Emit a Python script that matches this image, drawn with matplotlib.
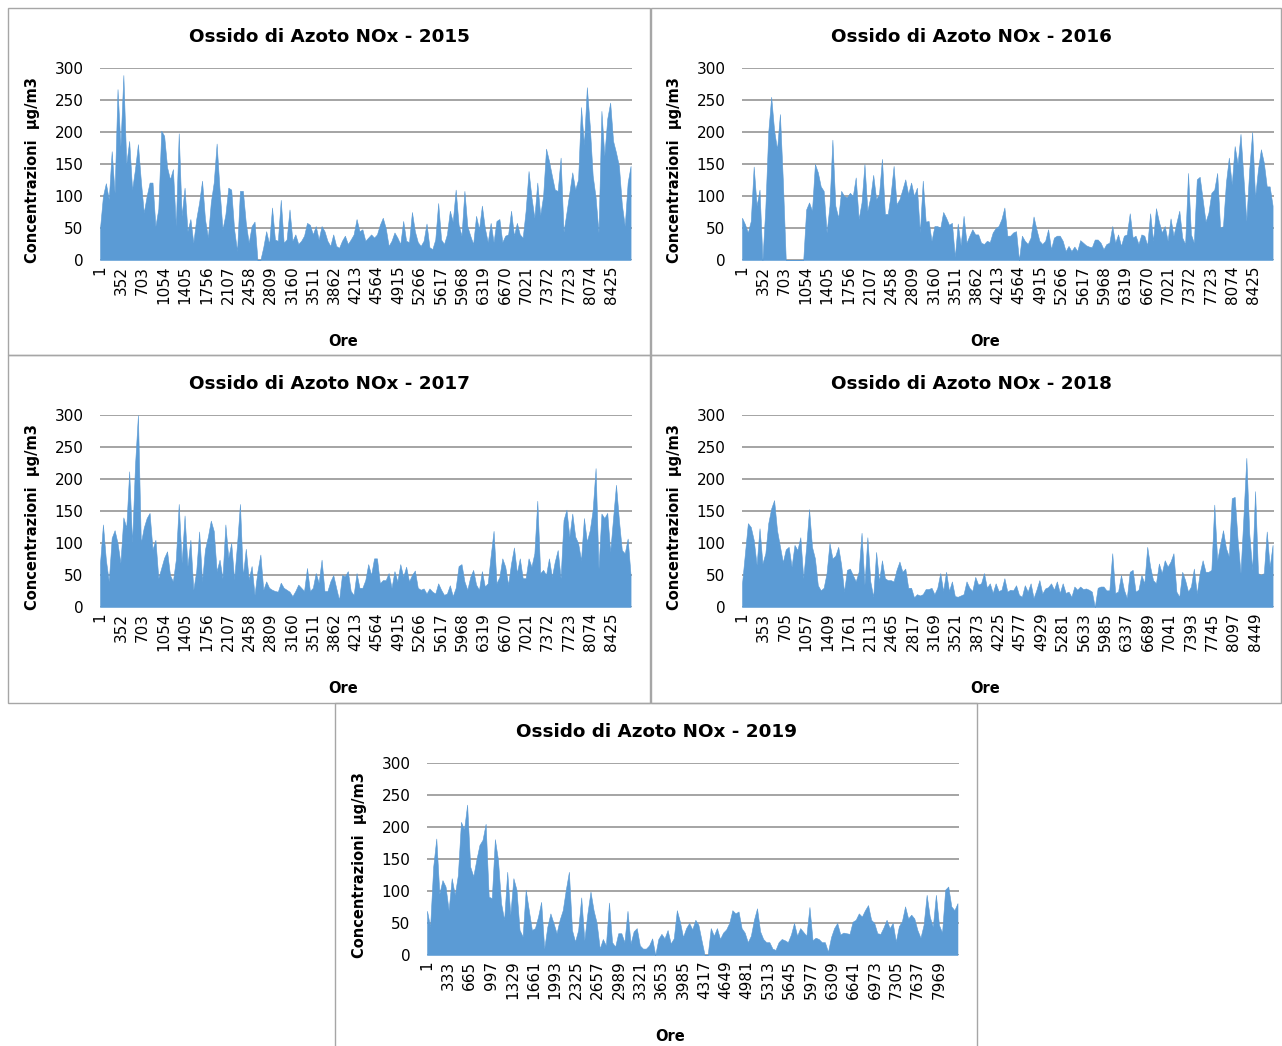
import numpy as np
import matplotlib
matplotlib.use("Agg")
import matplotlib.pyplot as plt
from matplotlib.patches import Rectangle

# Hourly NOx concentrations (µg/m3), one reading kept every 48 hours
STEP_HOURS = 48

nox_2015 = [
    50, 100, 120, 95, 170, 105, 267, 178, 289, 150,
    186, 110, 142, 181, 124, 74, 100, 121, 121, 53,
    80, 202, 194, 145, 126, 142, 53, 198, 69, 113,
    45, 64, 27, 64, 90, 124, 64, 35, 90, 121,
    182, 110, 48, 71, 113, 110, 48, 14, 108, 108,
    58, 27, 53, 60, 0, 0, 20, 45, 25, 82,
    32, 30, 94, 27, 32, 79, 30, 40, 25, 30,
    38, 58, 55, 40, 53, 32, 53, 45, 30, 22,
    40, 22, 19, 30, 38, 25, 32, 40, 64, 45, 48,
    30, 35, 40, 35, 40, 55, 66, 50, 22, 30,
    43, 35, 25, 61, 30, 28, 75, 45, 28, 22,
    30, 57, 20, 17, 32, 89, 32, 25, 40, 77,
    60, 110, 55, 38, 108, 53, 38, 25, 69, 48,
    85, 50, 28, 58, 28, 61, 64, 28, 38, 40,
    77, 38, 58, 40, 35, 77, 139, 98, 66, 121,
    70, 100, 174, 155, 132, 110, 108, 160, 44, 74,
    105, 137, 110, 126, 239, 180, 270, 210, 132, 98,
    43, 233, 163, 221, 246, 186, 168, 147, 87, 53,
    121, 147,
]

nox_2016 = [
    66, 56, 43, 61, 146, 85, 110, 0, 82, 200,
    255, 203, 173, 228, 124, 0, 0, 0, 0, 0,
    0, 0, 79, 90, 77, 150, 137, 115, 108, 43,
    85, 188, 85, 66, 108, 100, 98, 105, 100, 129,
    64, 90, 150, 77, 98, 133, 95, 103, 158, 72,
    72, 103, 147, 87, 95, 110, 126, 103, 121, 100,
    113, 43, 124, 60, 61, 30, 53, 53, 50, 75,
    66, 55, 58, 5, 57, 23, 69, 27, 38, 48,
    40, 40, 27, 25, 30, 28, 43, 50, 53, 64, 82,
    38, 38, 43, 45, 0, 38, 30, 25, 35, 68,
    48, 30, 25, 30, 48, 17, 35, 38, 38, 30,
    14, 22, 14, 21, 14, 31, 27, 23, 21, 20,
    32, 32, 27, 17, 25, 27, 53, 27, 40, 22,
    38, 40, 73, 35, 38, 25, 40, 38, 23, 73,
    30, 81, 60, 43, 53, 30, 65, 38, 58, 77,
    35, 25, 136, 40, 27, 126, 130, 95, 60, 74,
    105, 110, 136, 50, 53, 121, 160, 118, 178, 150,
    197, 129, 61, 142, 200, 98, 142, 173, 152, 115,
    115, 85,
]

nox_2017 = [
    69, 129, 74, 40, 108, 120, 100, 69, 140, 124,
    212, 100, 222, 300, 100, 124, 139, 147, 90, 105,
    45, 61, 77, 87, 50, 40, 74, 161, 69, 143,
    64, 105, 27, 56, 118, 40, 90, 110, 135, 119,
    56, 74, 45, 129, 77, 100, 43, 98, 161, 48,
    91, 43, 64, 19, 56, 82, 27, 40, 30, 27,
    25, 24, 38, 30, 27, 24, 17, 25, 35, 30,
    25, 61, 25, 30, 53, 38, 74, 25, 25, 40,
    50, 30, 11, 50, 48, 56, 25, 19, 53, 30, 30,
    42, 67, 50, 76, 76, 37, 42, 42, 53, 30,
    56, 40, 67, 47, 63, 40, 50, 57, 30, 27,
    29, 21, 29, 24, 21, 37, 27, 19, 21, 34,
    17, 30, 64, 67, 40, 27, 47, 58, 35, 27,
    56, 32, 37, 80, 119, 37, 47, 76, 63, 35,
    68, 93, 53, 76, 45, 45, 76, 63, 84, 166,
    53, 58, 50, 76, 47, 71, 89, 45, 136, 152,
    110, 146, 110, 100, 73, 139, 102, 120, 152, 217,
    60, 146, 139, 147, 86, 139, 191, 136, 89, 84,
    107, 50,
]

nox_2018 = [
    37, 84, 131, 125, 105, 66, 123, 68, 84, 131,
    154, 167, 120, 95, 70, 90, 94, 63, 97, 89,
    109, 45, 94, 153, 94, 76, 34, 26, 30, 53,
    100, 76, 80, 94, 66, 24, 58, 60, 50, 40,
    55, 116, 35, 109, 40, 16, 86, 40, 73, 45,
    42, 42, 40, 58, 71, 55, 60, 30, 30, 15,
    20, 18, 20, 28, 28, 30, 20, 30, 53, 25,
    55, 25, 40, 17, 16, 18, 20, 40, 30, 25,
    47, 35, 37, 53, 30, 37, 22, 37, 25, 27, 45,
    24, 27, 26, 34, 19, 16, 34, 24, 37, 14,
    27, 42, 21, 29, 31, 37, 27, 40, 22, 37,
    22, 24, 16, 32, 27, 32, 28, 29, 27, 24,
    0, 30, 32, 32, 26, 26, 84, 22, 24, 50,
    27, 14, 55, 58, 24, 27, 50, 37, 94, 63,
    42, 37, 68, 53, 73, 63, 71, 84, 24, 16,
    55, 42, 24, 32, 60, 21, 53, 73, 55, 55,
    58, 160, 73, 97, 120, 92, 79, 170, 172, 105,
    53, 141, 233, 115, 58, 181, 53, 50, 53, 118,
    63, 97,
]

nox_2019 = [
    69, 44, 138, 182, 96, 117, 107, 70, 120, 94,
    125, 208, 196, 235, 138, 123, 149, 172, 180, 205,
    91, 89, 181, 149, 81, 55, 130, 63, 120, 102,
    39, 29, 102, 70, 39, 42, 60, 83, 10, 44,
    65, 50, 34, 55, 70, 102, 130, 39, 21, 39,
    90, 23, 65, 99, 70, 50, 10, 25, 15, 82,
    20, 13, 34, 34, 20, 69, 18, 37, 42, 15,
    10, 10, 15, 26, 0, 25, 33, 26, 39, 18,
    26, 70, 52, 28, 42, 50, 40,
    55, 47, 23, 0, 0, 42, 30, 42, 25, 35,
    40, 50, 70, 65, 68, 42, 35, 20, 30, 55,
    73, 37, 25, 20, 20, 10, 8, 20, 25, 23,
    20, 32, 50, 30, 42, 36, 30, 75, 23, 27,
    25, 20, 20, 5, 28, 42, 50, 32, 35, 34,
    33, 52, 55, 65, 60, 70, 78, 55, 50, 34,
    33, 43, 55, 42, 50, 21, 45, 53, 76, 57,
    63, 57, 39, 27, 47, 94, 60, 44, 94, 47,
    35, 102, 107, 76, 70, 81,
]

years = [2015, 2016, 2017, 2018, 2019]
series = [nox_2015, nox_2016, nox_2017, nox_2018, nox_2019]
hours_in_year = [8760, 8760, 8760, 8760, 8280]
label_every = [351, 351, 351, 352, 332]
y_ticks = [0, 50, 100, 150, 200, 250, 300]

TITLE = "Ossido di Azoto NOx - {}"
Y_LABEL = "Concentrazioni  µg/m3"
X_LABEL = "Ore"

W, H = 1282, 1046
fig = plt.figure(figsize=(W / 100, H / 100), dpi=100)
fig.patch.set_facecolor("white")

# Panel frames (pixels: left, top, right, bottom) and plot areas
frames = [(8, 8, 650, 355), (651, 8, 1281, 355),
          (8, 355, 650, 703), (651, 355, 1281, 703),
          (335, 703, 977, 1052)]
plot_areas = [(100, 68, 632, 260), (742, 68, 1274, 260),
              (100, 415, 632, 607), (742, 415, 1274, 607),
              (427, 763, 959, 955)]

FILL = "#5B9BD5"
GRID = "#8C8C8C"
FONT = "DejaVu Sans"

for (l, t, r, b) in frames:
    fig.patches.append(Rectangle((l / W, 1 - b / H), (r - l) / W, (b - t) / H,
                                 transform=fig.transFigure, fill=False,
                                 edgecolor="#A6A6A6", linewidth=1.0))

for year, vals, n, every, (l, t, r, b) in zip(years, series, hours_in_year,
                                               label_every, plot_areas):
    ax = fig.add_axes([l / W, 1 - b / H, (r - l) / W, (b - t) / H])
    vals = np.asarray(vals, dtype=float)
    hrs = 1 + STEP_HOURS * np.arange(len(vals))
    ax.fill_between(hrs, 0, vals, color=FILL, linewidth=0.4, edgecolor=FILL,
                    zorder=2)
    ax.set_xlim(0.5, n + 0.5)
    ax.set_ylim(0, 300)
    ax.set_yticks(y_ticks)
    ax.set_yticklabels([str(v) for v in y_ticks], fontsize=11, family=FONT)
    xt = np.arange(1, n + 1, every)
    ax.set_xticks(xt)
    ax.set_xticklabels([str(v) for v in xt], rotation=90, fontsize=11,
                       family=FONT)
    ax.tick_params(axis="both", length=0)
    ax.tick_params(axis="y", pad=12)
    ax.tick_params(axis="x", pad=4)
    for s in ax.spines.values():
        s.set_visible(False)
    ax.yaxis.grid(True, color=GRID, linewidth=1.1, zorder=1)
    ax.set_axisbelow(True)
    ax.set_title(TITLE.format(year), fontsize=13.2, fontweight="bold",
                 family=FONT, x=0.431, y=1.135, pad=0)
    ax.set_ylabel(Y_LABEL, fontsize=10.5, fontweight="bold", family=FONT)
    ax.yaxis.set_label_coords(-0.113, 0.47)
    ax.text(0.457, -0.427, X_LABEL, transform=ax.transAxes, ha="center",
            va="center", fontsize=10.5, fontweight="bold", family=FONT)

fig.savefig("out.png", dpi=100, facecolor="white")
